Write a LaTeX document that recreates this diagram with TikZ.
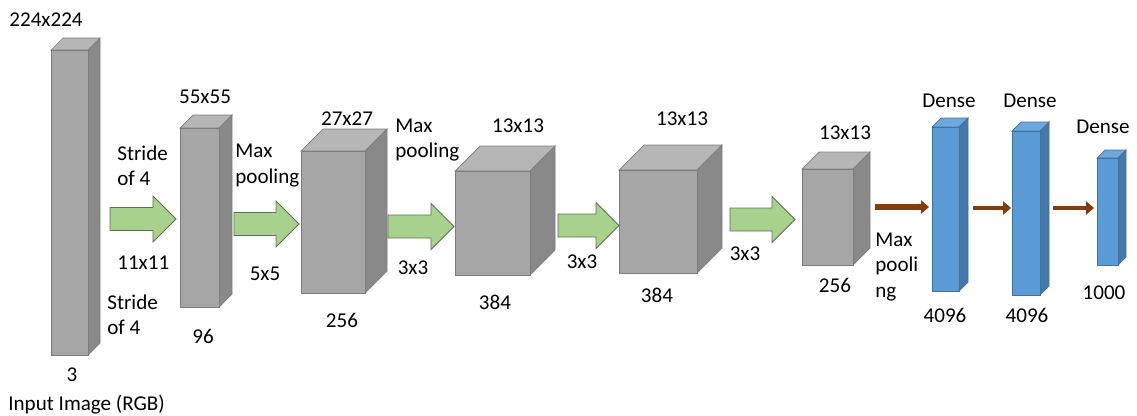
\documentclass[tikz,border=0pt]{standalone}
\usepackage{fontspec}
\setmainfont{Carlito}
\usetikzlibrary{arrows.meta}

\definecolor{graytop}{RGB}{182,182,182}
\definecolor{grayfront}{RGB}{166,166,166}
\definecolor{grayside}{RGB}{137,137,137}
\definecolor{grayedge}{RGB}{125,125,125}
\definecolor{bluetop}{RGB}{110,168,222}
\definecolor{bluefront}{RGB}{91,155,213}
\definecolor{blueside}{RGB}{70,120,170}
\definecolor{blueedge}{RGB}{65,113,156}
\definecolor{convgreen}{RGB}{169,209,142}
\definecolor{convedge}{RGB}{95,110,85}
\definecolor{densebrown}{RGB}{132,60,12}

% a layer drawn as a box: name, x, y (front top left), width, height, depth, colour set
\newcommand{\layer}[7]{%
  \filldraw[draw=#7edge, fill=#7top] (#2,#3) -- ++(#6,-#6) -- ++(#4,0) -- ++(-#6,#6) -- cycle;
  \filldraw[draw=#7edge, fill=#7side] (#2+#4,#3) -- ++(#6,-#6) -- ++(0,#5) -- ++(-#6,#6) -- cycle;
  \filldraw[draw=#7edge, fill=#7front] (#2,#3) rectangle ++(#4,#5);
  \coordinate (#1) at (#2+#4/2,#3+#5/2);
}

% fat green arrow: name, x start, x tip, y centre
\newcommand{\convarrow}[4]{%
  \filldraw[conv] (#2,#4-11.5) -- (#3-23,#4-11.5) -- (#3-23,#4-23) -- (#3,#4)
    -- (#3-23,#4+23) -- (#3-23,#4+11.5) -- (#2,#4+11.5) -- cycle;
  \coordinate (#1) at (#2/2+#3/2,#4);
}

\tikzset{
  lbl/.style={font=\fontsize{12}{14.4}\selectfont, inner sep=0pt},
  lbll/.style={lbl, anchor=west, align=left},
  conv/.style={draw=convedge, fill=convgreen, line width=0.5pt},
  dense/.style={draw=densebrown, line width=3.2pt,
    -{Triangle[length=4.5pt, width=7.5pt]}},
}

\begin{document}
\begin{tikzpicture}
\begin{scope}[x=0.02cm, y=-0.02cm]
\useasboundingbox (0,0) rectangle (1137,416);

% feature maps
\layer{inp}{51}{50}{37}{305}{12}{gray}
\layer{c1}{180}{128}{39}{179}{13}{gray}
\layer{c2}{301}{151}{64}{142}{22}{gray}
\layer{c3}{455}{171}{75}{104}{25}{gray}
\layer{c4}{619}{170}{78}{103}{25}{gray}
\layer{c5}{802}{169}{51}{96}{17}{gray}
% dense layers
\layer{d1}{932}{127}{27}{164}{9}{blue}
\layer{d2}{1012}{131}{28}{164}{9}{blue}
\layer{d3}{1097}{158}{21}{107}{8}{blue}

% convolutions
\convarrow{a1}{110}{176}{219}
\convarrow{a2}{234}{299}{224}
\convarrow{a3}{388}{454}{226.5}
\convarrow{a4}{558}{619}{225.5}
\convarrow{a5}{730}{795}{219.5}

% fully connected
\coordinate (f1) at (875,207); \coordinate (f2) at (929,207);
\coordinate (g1) at (973,208); \coordinate (g2) at (1011,208);
\coordinate (h1) at (1053,208); \coordinate (h2) at (1094,208);
\draw[dense] (f1) -- (f2);
\draw[dense, line width=2.4pt] (g1) -- (g2);
\draw[dense, line width=2.8pt] (h1) -- (h2);

% labels
\node[lbl] (tin) at (46,20) {224x224};
\node[lbl] (bin) at (72,375) {3};
\node[lbll] (name) at (8,405) {Input Image (RGB)};
\node[lbll] (s1) at (117,165.5) {Stride\\of 4};
\node[lbll] (k1) at (117,263) {11x11};
\node[lbll] (s2) at (107,314.5) {Stride\\of 4};
\node[lbl] (t1) at (205,97) {55x55};
\node[lbl] (b1) at (203,336) {96};
\node[lbll] (p1) at (235,165.5) {Max\\pooling};
\node[lbl] (k2) at (265,274) {5x5};
\node[lbl] (t2) at (347,119) {27x27};
\node[lbll] (p2) at (395,140) {Max\\pooling};
\node[lbl] (b2) at (342,320) {256};
\node[lbl] (k3) at (413,268) {3x3};
\node[lbl] (t3) at (518,126) {13x13};
\node[lbl] (b3) at (495,302) {384};
\node[lbl] (k4) at (582,262) {3x3};
\node[lbl] (t4) at (682,119) {13x13};
\node[lbl] (b4) at (657,295) {384};
\node[lbl] (k5) at (745,254) {3x3};
\node[lbl] (t5) at (845,133) {13x13};
\node[lbl] (b5) at (835,285) {256};
\node[lbll] (p3) at (875,267) {Max\\pooli\\ng};
\node[lbl] (td1) at (949,101) {Dense};
\node[lbl] (td2) at (1030,101) {Dense};
\node[lbl] (td3) at (1103,127) {Dense};
\node[lbl] (bd1) at (945,315) {4096};
\node[lbl] (bd2) at (1027,315) {4096};
\node[lbl] (bd3) at (1104,293) {1000};
\end{scope}
\end{tikzpicture}
\end{document}
